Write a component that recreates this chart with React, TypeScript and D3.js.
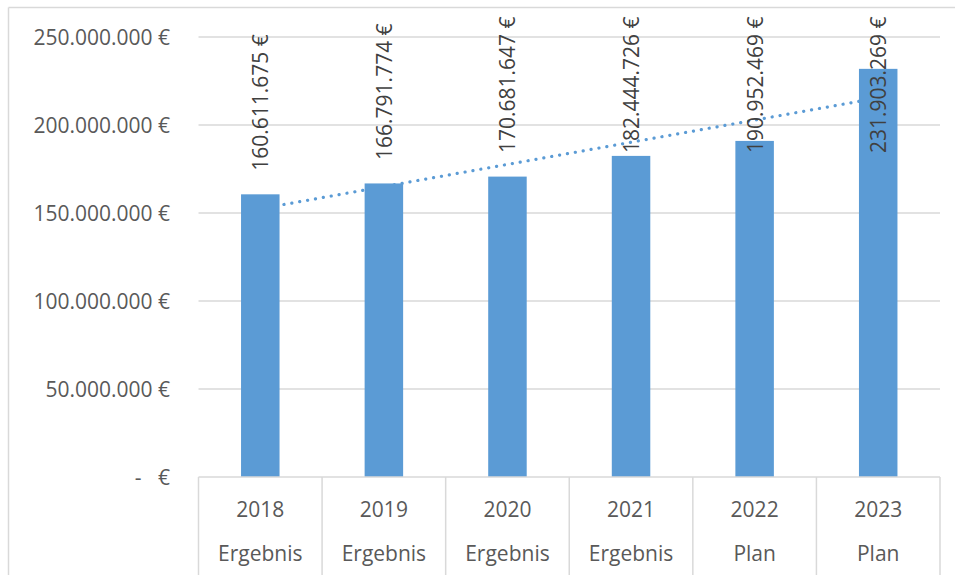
import React from "react";
import * as d3 from "d3";

const years = ["2018", "2019", "2020", "2021", "2022", "2023"];
const kinds = ["Ergebnis", "Ergebnis", "Ergebnis", "Ergebnis", "Plan", "Plan"];
const values = [160611675, 166791774, 170681647, 182444726, 190952469, 231903269];
const yTicks = [0, 50000000, 100000000, 150000000, 200000000, 250000000];

const W = 955;
const H = 575;
const FONT = "'Open Sans', 'Noto Sans', sans-serif";
const BLUE = "#5B9BD5";
const GRID = "#D9D9D9";
const TXT = "#595959";

const fmt = (v: number) =>
  v === 0 ? "-   €" : d3.format(",")(v).replace(/,/g, ".") + " €";

export default function App() {
  const left = 198.5;
  const right = 940;
  const y = d3.scaleLinear().domain([0, 250000000]).range([477, 37]);
  const x = d3.scaleBand().domain(years).range([left, right]).paddingInner(0).paddingOuter(0);
  const bw = 38.5;
  const cx = (c: string) => (x(c) as number) + x.bandwidth() / 2;

  // linear trendline (least squares over category index)
  const idx = values.map((_, i) => i + 1);
  const mx = d3.mean(idx) as number;
  const my = d3.mean(values) as number;
  const slope =
    d3.sum(idx.map((xi, i) => (xi - mx) * (values[i] - my))) /
    d3.sum(idx.map((xi) => (xi - mx) ** 2));
  const trend = (xi: number) => my + slope * (xi - mx);
  const x0 = cx(years[0]);
  const x1 = cx(years[years.length - 1]);
  const trendPath = d3.line()([
    [x0, y(trend(1))],
    [x1, y(trend(years.length))],
  ]);

  return (
    <svg
      width={W}
      height={H}
      style={{ position: "absolute", left: 0, top: 0, background: "#fff" }}
      fontFamily={FONT}
    >
      {/* outer frame */}
      <line x1={8.5} x2={W} y1={7.5} y2={7.5} stroke={GRID} strokeWidth={1.5} />
      <line x1={8.5} x2={8.5} y1={7.5} y2={H} stroke={GRID} strokeWidth={1.5} />

      {/* gridlines + y labels */}
      {yTicks.map((t) => (
        <g key={t}>
          {t > 0 && (
            <line x1={left} x2={right} y1={y(t)} y2={y(t)} stroke={GRID} strokeWidth={1.5} />
          )}
          <text
            x={170}
            y={y(t)}
            textAnchor="end"
            dominantBaseline="central"
            fontSize={21}
            fill={TXT}
            style={{ whiteSpace: "pre" }}
          >
            {fmt(t)}
          </text>
        </g>
      ))}

      {/* trendline (drawn under bars) */}
      <path
        d={trendPath || ""}
        stroke={BLUE}
        strokeWidth={3.2}
        strokeDasharray="0.1 7.9"
        strokeLinecap="round"
        fill="none"
      />

      {/* bars */}
      {years.map((c, i) => (
        <rect
          key={c}
          x={cx(c) - bw / 2}
          y={y(values[i])}
          width={bw}
          height={y(0) - y(values[i])}
          fill={BLUE}
        />
      ))}

      {/* x axis line and category boxes */}
      <line x1={left} x2={right} y1={477} y2={477} stroke={GRID} strokeWidth={1.5} />
      {d3.range(years.length + 1).map((i) => {
        const xx = left + i * x.bandwidth();
        return <line key={i} x1={xx} x2={xx} y1={477} y2={H} stroke={GRID} strokeWidth={1.5} />;
      })}
      {years.map((c, i) => (
        <g key={c}>
          <text x={cx(c)} y={509} textAnchor="middle" dominantBaseline="central" fontSize={21} fill={TXT}>
            {c}
          </text>
          <text x={cx(c)} y={553} textAnchor="middle" dominantBaseline="central" fontSize={21} fill={TXT}>
            {kinds[i]}
          </text>
        </g>
      ))}

      {/* data labels (kept inside the plot area) */}
      {years.map((c, i) => {
        const by = Math.max(y(values[i]) - 23.5, 153);
        return (
          <text
            key={c}
            transform={`translate(${cx(c)},${by}) rotate(-90)`}
            textAnchor="start"
            dominantBaseline="central"
            fontSize={21}
            fill="#404040"
          >
            {fmt(values[i])}
          </text>
        );
      })}
    </svg>
  );
}
